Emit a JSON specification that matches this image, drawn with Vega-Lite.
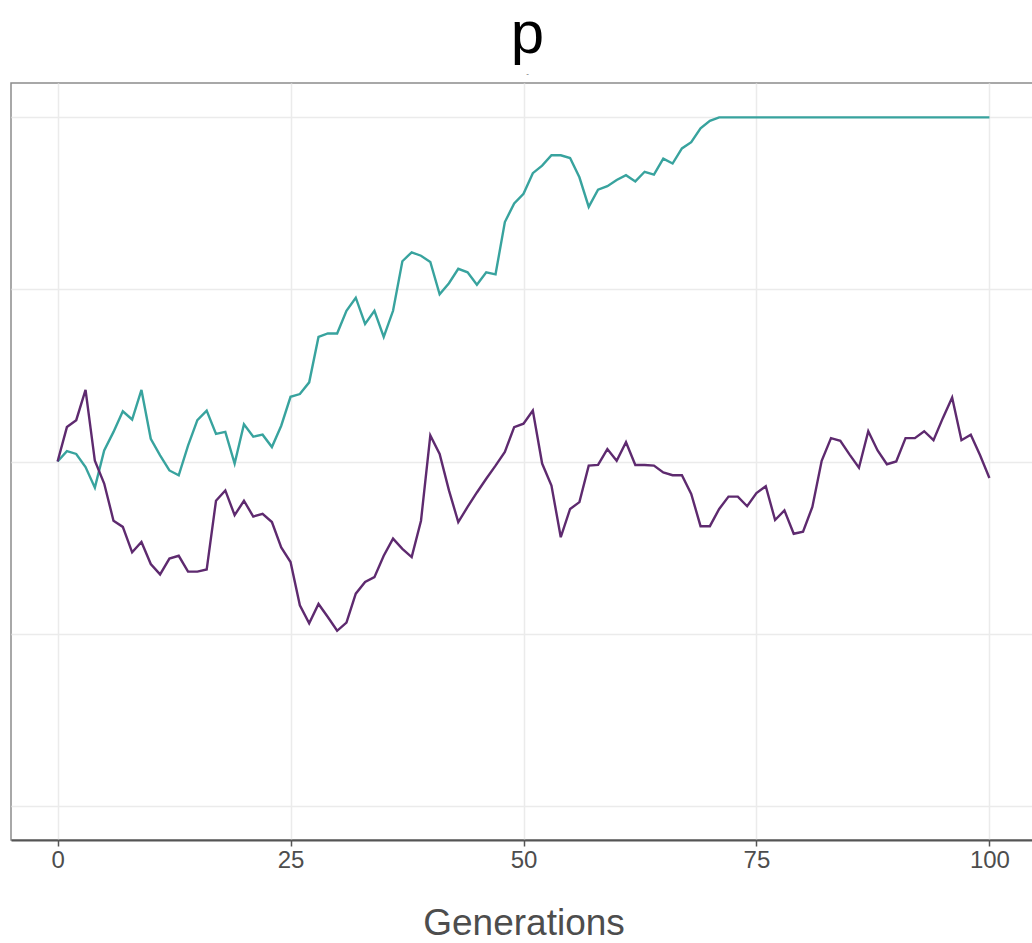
{
  "$schema": "https://vega.github.io/schema/vega-lite/v6.json",
  "width": 1025,
  "height": 757,
  "autosize": {"type": "none"},
  "padding": {"left": 11, "top": 83, "right": 0, "bottom": 103},
  "background": "white",
  "title": {
    "text": "p",
    "subtitle": "-",
    "font": "Liberation Sans",
    "fontSize": 60,
    "fontWeight": "normal",
    "color": "#000000",
    "anchor": "middle",
    "offset": 4,
    "dx": 4,
    "subtitleFont": "Liberation Sans",
    "subtitleFontSize": 8,
    "subtitleColor": "#666666",
    "subtitlePadding": 4
  },
  "config": {
    "view": {"stroke": "#8c8c8c", "strokeWidth": 1.5},
    "axis": {
      "labelFont": "Liberation Sans",
      "titleFont": "Liberation Sans"
    }
  },
  "data": {
    "values": [
      {"g": 0, "teal": 0.5, "purple": 0.5},
      {"g": 1, "teal": 0.515, "purple": 0.55},
      {"g": 2, "teal": 0.511, "purple": 0.56},
      {"g": 3, "teal": 0.492, "purple": 0.604},
      {"g": 4, "teal": 0.462, "purple": 0.501},
      {"g": 5, "teal": 0.516, "purple": 0.468},
      {"g": 6, "teal": 0.543, "purple": 0.414},
      {"g": 7, "teal": 0.573, "purple": 0.405},
      {"g": 8, "teal": 0.561, "purple": 0.368},
      {"g": 9, "teal": 0.604, "purple": 0.383},
      {"g": 10, "teal": 0.533, "purple": 0.351},
      {"g": 11, "teal": 0.509, "purple": 0.336},
      {"g": 12, "teal": 0.487, "purple": 0.359},
      {"g": 13, "teal": 0.48, "purple": 0.363},
      {"g": 14, "teal": 0.523, "purple": 0.34},
      {"g": 15, "teal": 0.56, "purple": 0.34},
      {"g": 16, "teal": 0.574, "purple": 0.343},
      {"g": 17, "teal": 0.54, "purple": 0.443},
      {"g": 18, "teal": 0.543, "purple": 0.458},
      {"g": 19, "teal": 0.497, "purple": 0.422},
      {"g": 20, "teal": 0.554, "purple": 0.443},
      {"g": 21, "teal": 0.536, "purple": 0.42},
      {"g": 22, "teal": 0.539, "purple": 0.424},
      {"g": 23, "teal": 0.521, "purple": 0.412},
      {"g": 24, "teal": 0.552, "purple": 0.375},
      {"g": 25, "teal": 0.594, "purple": 0.354},
      {"g": 26, "teal": 0.598, "purple": 0.291},
      {"g": 27, "teal": 0.615, "purple": 0.265},
      {"g": 28, "teal": 0.681, "purple": 0.293},
      {"g": 29, "teal": 0.686, "purple": 0.274},
      {"g": 30, "teal": 0.686, "purple": 0.254},
      {"g": 31, "teal": 0.719, "purple": 0.266},
      {"g": 32, "teal": 0.738, "purple": 0.308},
      {"g": 33, "teal": 0.7, "purple": 0.325},
      {"g": 34, "teal": 0.719, "purple": 0.332},
      {"g": 35, "teal": 0.681, "purple": 0.363},
      {"g": 36, "teal": 0.719, "purple": 0.388},
      {"g": 37, "teal": 0.791, "purple": 0.373},
      {"g": 38, "teal": 0.804, "purple": 0.361},
      {"g": 39, "teal": 0.799, "purple": 0.414},
      {"g": 40, "teal": 0.79, "purple": 0.538},
      {"g": 41, "teal": 0.743, "purple": 0.511},
      {"g": 42, "teal": 0.759, "purple": 0.458},
      {"g": 43, "teal": 0.78, "purple": 0.412},
      {"g": 44, "teal": 0.775, "purple": 0.434},
      {"g": 45, "teal": 0.757, "purple": 0.455},
      {"g": 46, "teal": 0.775, "purple": 0.475},
      {"g": 47, "teal": 0.772, "purple": 0.494},
      {"g": 48, "teal": 0.848, "purple": 0.514},
      {"g": 49, "teal": 0.875, "purple": 0.55},
      {"g": 50, "teal": 0.889, "purple": 0.555},
      {"g": 51, "teal": 0.919, "purple": 0.574},
      {"g": 52, "teal": 0.93, "purple": 0.497},
      {"g": 53, "teal": 0.945, "purple": 0.465},
      {"g": 54, "teal": 0.945, "purple": 0.39},
      {"g": 55, "teal": 0.941, "purple": 0.431},
      {"g": 56, "teal": 0.913, "purple": 0.441},
      {"g": 57, "teal": 0.87, "purple": 0.494},
      {"g": 58, "teal": 0.895, "purple": 0.495},
      {"g": 59, "teal": 0.9, "purple": 0.518},
      {"g": 60, "teal": 0.909, "purple": 0.501},
      {"g": 61, "teal": 0.916, "purple": 0.528},
      {"g": 62, "teal": 0.907, "purple": 0.495},
      {"g": 63, "teal": 0.921, "purple": 0.495},
      {"g": 64, "teal": 0.917, "purple": 0.494},
      {"g": 65, "teal": 0.94, "purple": 0.484},
      {"g": 66, "teal": 0.933, "purple": 0.48},
      {"g": 67, "teal": 0.955, "purple": 0.48},
      {"g": 68, "teal": 0.964, "purple": 0.453},
      {"g": 69, "teal": 0.984, "purple": 0.406},
      {"g": 70, "teal": 0.995, "purple": 0.406},
      {"g": 71, "teal": 1, "purple": 0.431},
      {"g": 72, "teal": 1, "purple": 0.449},
      {"g": 73, "teal": 1, "purple": 0.449},
      {"g": 74, "teal": 1, "purple": 0.435},
      {"g": 75, "teal": 1, "purple": 0.454},
      {"g": 76, "teal": 1, "purple": 0.464},
      {"g": 77, "teal": 1, "purple": 0.415},
      {"g": 78, "teal": 1, "purple": 0.429},
      {"g": 79, "teal": 1, "purple": 0.395},
      {"g": 80, "teal": 1, "purple": 0.398},
      {"g": 81, "teal": 1, "purple": 0.434},
      {"g": 82, "teal": 1, "purple": 0.501},
      {"g": 83, "teal": 1, "purple": 0.534},
      {"g": 84, "teal": 1, "purple": 0.53},
      {"g": 85, "teal": 1, "purple": 0.51},
      {"g": 86, "teal": 1, "purple": 0.491},
      {"g": 87, "teal": 1, "purple": 0.544},
      {"g": 88, "teal": 1, "purple": 0.516},
      {"g": 89, "teal": 1, "purple": 0.496},
      {"g": 90, "teal": 1, "purple": 0.5},
      {"g": 91, "teal": 1, "purple": 0.534},
      {"g": 92, "teal": 1, "purple": 0.534},
      {"g": 93, "teal": 1, "purple": 0.544},
      {"g": 94, "teal": 1, "purple": 0.531},
      {"g": 95, "teal": 1, "purple": 0.563},
      {"g": 96, "teal": 1, "purple": 0.593},
      {"g": 97, "teal": 1, "purple": 0.531},
      {"g": 98, "teal": 1, "purple": 0.539},
      {"g": 99, "teal": 1, "purple": 0.509},
      {"g": 100, "teal": 1, "purple": 0.476}
    ]
  },
  "transform": [{"fold": ["teal", "purple"], "as": ["run", "p"]}],
  "mark": {"type": "line", "strokeWidth": 2.4, "clip": true},
  "encoding": {
    "x": {
      "field": "g",
      "type": "quantitative",
      "scale": {"domain": [-5, 105], "nice": false, "zero": false},
      "axis": {
        "values": [0, 25, 50, 75, 100],
        "title": "Generations",
        "grid": true,
        "gridColor": "#ebebeb",
        "gridWidth": 1.5,
        "domainColor": "#555555",
        "domainWidth": 1.8,
        "tickColor": "#555555",
        "tickWidth": 1.5,
        "tickSize": 6,
        "labelFontSize": 24,
        "labelColor": "#4d4d4d",
        "labelPadding": 2,
        "titleFontSize": 37,
        "titleFontWeight": "normal",
        "titleColor": "#4d4d4d",
        "titlePadding": 33
      }
    },
    "y": {
      "field": "p",
      "type": "quantitative",
      "scale": {"domain": [-0.05, 1.05], "nice": false, "zero": false},
      "axis": {
        "values": [0, 0.25, 0.5, 0.75, 1],
        "title": null,
        "grid": true,
        "gridColor": "#ebebeb",
        "gridWidth": 1.5,
        "labels": false,
        "ticks": false,
        "domain": false
      }
    },
    "color": {
      "field": "run",
      "type": "nominal",
      "scale": {"domain": ["teal", "purple"], "range": ["#38a39e", "#5e2a6f"]},
      "legend": null
    }
  }
}
